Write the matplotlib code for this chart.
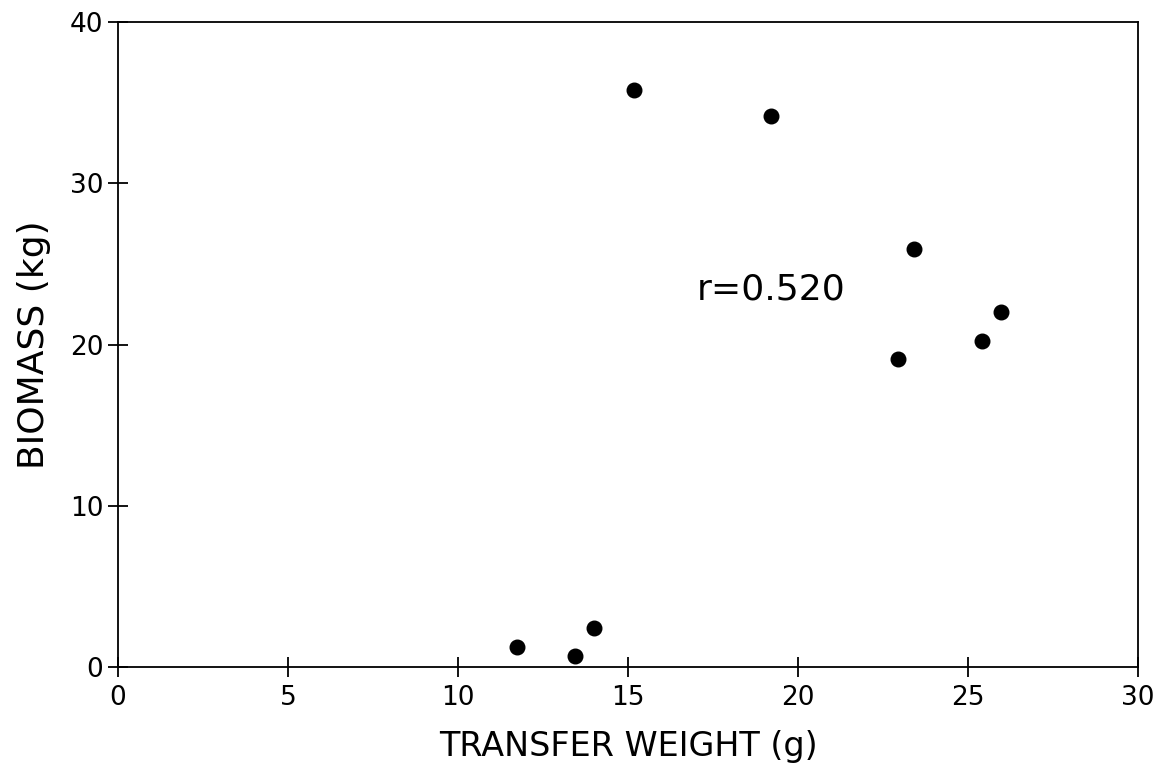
import matplotlib
matplotlib.use("Agg")
import matplotlib.pyplot as plt

# transfer weight (g) vs biomass (kg)
transfer_weight = [11.74, 13.45, 13.99, 15.18, 19.2, 22.94, 23.4, 25.4, 25.96]
biomass = [1.25, 0.7, 2.4, 35.8, 34.2, 19.1, 25.9, 20.2, 22.0]

x_ticks = [0, 5, 10, 15, 20, 25, 30]
y_ticks = [0, 10, 20, 30, 40]

plt.rcParams["font.family"] = ["DejaVu Sans"]

fig = plt.figure(figsize=(11.69, 7.74), dpi=100)
ax = fig.add_axes([0.101, 0.138, 0.8725, 0.8336])

ax.scatter(transfer_weight, biomass, s=110, color="black", zorder=3)

ax.text(19.2, 23.4, "r=0.520", fontsize=26, ha="center", va="center")

ax.set_xlim(0, 30)
ax.set_ylim(0, 40)
ax.set_xticks(x_ticks)
ax.set_yticks(y_ticks)
ax.tick_params(direction="inout", length=15, width=1.3, labelsize=19, pad=3)
ax.tick_params(axis="x", top=False, pad=5)
ax.tick_params(axis="y", right=False)

for s in ax.spines.values():
    s.set_linewidth(1.3)

ax.set_xlabel("TRANSFER WEIGHT (g)", fontsize=24, labelpad=14)
ax.set_ylabel("BIOMASS (kg)", fontsize=26, labelpad=14)

fig.savefig("out.png", dpi=100)
